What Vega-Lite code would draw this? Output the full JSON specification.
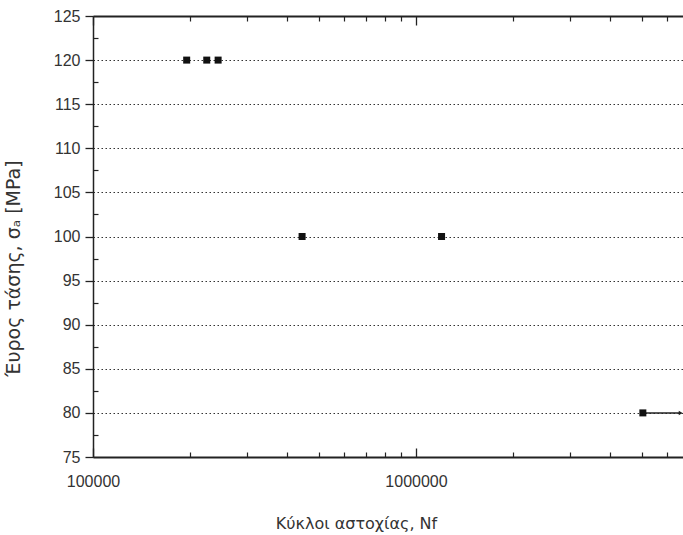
{
  "$schema": "https://vega.github.io/schema/vega-lite/v6.json",
  "width": 590,
  "height": 441,
  "autosize": {"type": "none"},
  "padding": {"left": 93, "top": 16, "right": 0, "bottom": 78},
  "background": "#ffffff",
  "config": {
    "view": {"stroke": null},
    "font": "Liberation Sans",
    "axis": {"labelColor": "#333333", "titleColor": "#333333", "domainColor": "#222222", "tickColor": "#222222", "titleFontWeight": "normal", "grid": false}
  },
  "datasets": {
    "pts": [
      {"N": 195000, "S": 120},
      {"N": 225000, "S": 120},
      {"N": 244000, "S": 120},
      {"N": 444000, "S": 100},
      {"N": 1200000, "S": 100},
      {"N": 5040000, "S": 80}
    ],
    "runout": [
      {"N": 5040000, "N2": 6600000, "S": 80}
    ]
  },
  "resolve": {"axis": {"x": "independent", "y": "independent"}},
  "layer": [
    {
      "data": {"name": "pts"},
      "transform": [{"filter": "datum.S >= 100"}],
      "mark": {"type": "point", "shape": "square", "filled": true, "size": 49, "color": "#111111", "opacity": 1},
      "encoding": {
        "x": {
          "field": "N", "type": "quantitative",
          "scale": {"type": "log", "domain": [100000, 6710000], "nice": false},
          "axis": {
            "orient": "bottom", "values": [100000, 1000000], "format": "d", "grid": false,
            "labelFontSize": 16, "labelPadding": 25, "tickSize": -9, "tickWidth": 1.3,
            "domainWidth": 2, "labelFlush": false,
            "title": "Κύκλοι αστοχίας, Nf", "titleFontSize": 16, "titleFont": "DejaVu Sans",
            "titleX": 263, "titleY": 66, "titleBaseline": "middle", "titleAlign": "center"
          }
        },
        "y": {
          "field": "S", "type": "quantitative",
          "scale": {"domain": [75, 125], "nice": false, "zero": false},
          "axis": {
            "orient": "left", "values": [75, 80, 85, 90, 95, 100, 105, 110, 115, 120, 125],
            "labelFontSize": 16, "labelPadding": 5, "tickSize": 8, "tickWidth": 1.3,
            "domainWidth": 1.5,
            "grid": true, "gridDash": [1.5, 2.5], "gridColor": "#333333", "gridWidth": 1.2,
            "title": "Έυρος τάσης, σₐ [MPa]", "titleFontSize": 19, "titleFont": "DejaVu Sans",
            "titleAngle": -90, "titleX": -80, "titleY": 252, "titleAlign": "center", "titleBaseline": "middle"
          }
        }
      }
    },
    {
      "data": {"name": "runout"},
      "mark": {"type": "rule", "color": "#222222", "strokeWidth": 1.5},
      "encoding": {
        "x": {
          "field": "N", "type": "quantitative",
          "axis": {
            "orient": "bottom", "values": [200000, 300000, 400000, 500000, 600000, 700000, 800000, 900000, 2000000, 3000000, 4000000, 5000000, 6000000],
            "labels": false, "tickSize": -5, "tickWidth": 1.2, "domain": false, "grid": false, "title": null
          }
        },
        "x2": {"field": "N2"},
        "y": {
          "field": "S", "type": "quantitative",
          "axis": {
            "orient": "left", "values": [77.5, 82.5, 87.5, 92.5, 97.5, 102.5, 107.5, 112.5, 117.5, 122.5],
            "labels": false, "tickSize": -5, "tickWidth": 1.2, "domain": false, "grid": false, "title": null
          }
        }
      }
    },
    {
      "data": {"name": "runout"},
      "mark": {"type": "point", "shape": "triangle-right", "filled": true, "size": 20, "color": "#222222", "opacity": 1},
      "encoding": {
        "x": {
          "field": "N2", "type": "quantitative",
          "axis": {
            "orient": "top", "values": [100000, 1000000],
            "labels": false, "tickSize": -9, "tickWidth": 1.3, "domainWidth": 2, "grid": false, "title": null
          }
        },
        "y": {"field": "S", "type": "quantitative", "axis": null}
      }
    },
    {
      "data": {"name": "pts"},
      "transform": [{"filter": "datum.S < 100"}],
      "mark": {"type": "point", "shape": "square", "filled": true, "size": 49, "color": "#111111", "opacity": 1},
      "encoding": {
        "x": {
          "field": "N", "type": "quantitative",
          "axis": {
            "orient": "top", "values": [200000, 300000, 400000, 500000, 600000, 700000, 800000, 900000, 2000000, 3000000, 4000000, 5000000, 6000000],
            "labels": false, "tickSize": -5, "tickWidth": 1.2, "domain": false, "grid": false, "title": null
          }
        },
        "y": {"field": "S", "type": "quantitative", "axis": null}
      }
    }
  ]
}
